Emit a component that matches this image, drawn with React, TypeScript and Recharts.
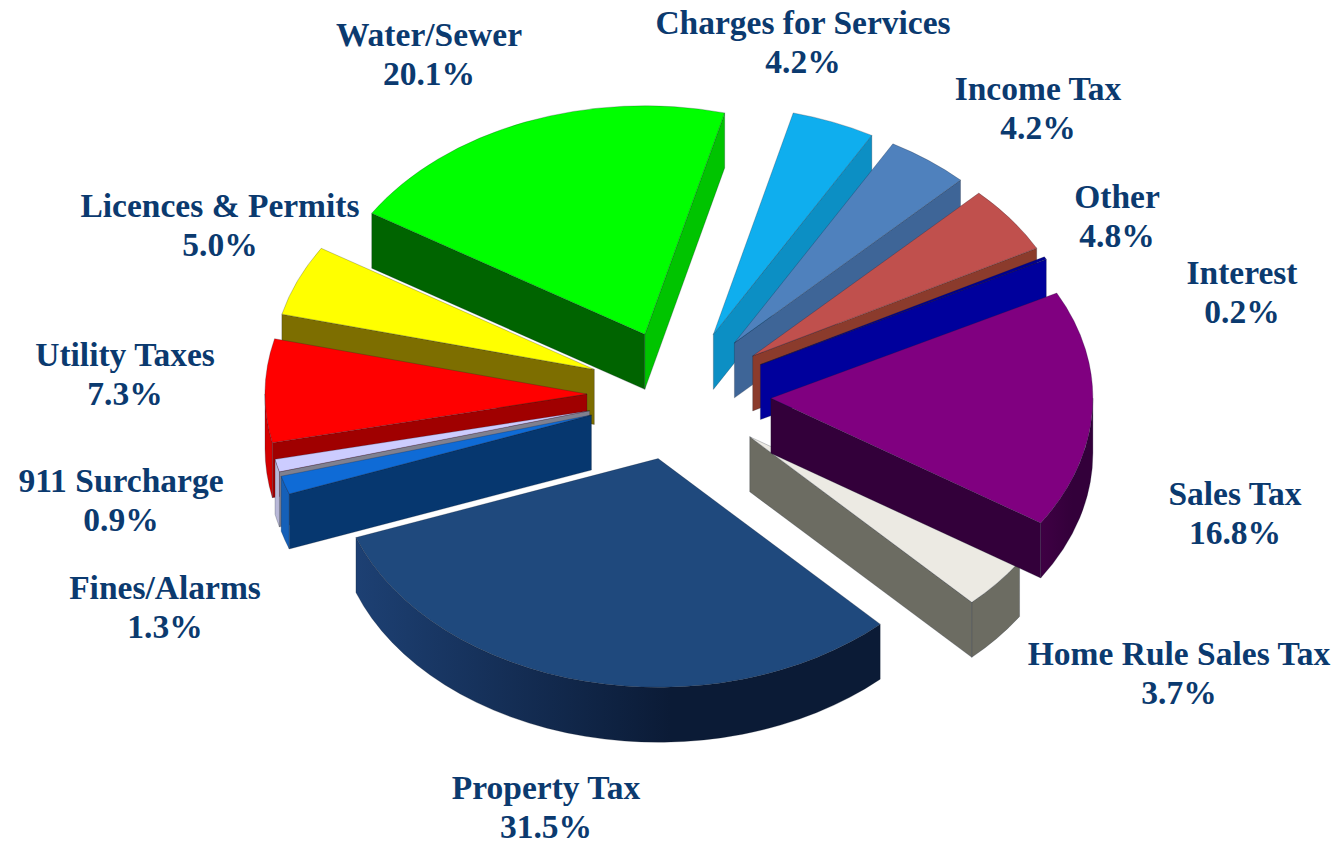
import React from "react";
import { PieChart, Pie } from "recharts";

// Revenue sources, clockwise from the Water/Sewer slice.
const categories = [
  "Water/Sewer", "Charges for Services", "Income Tax", "Other", "Interest", "Sales Tax",
  "Home Rule Sales Tax", "Property Tax", "Fines/Alarms", "911 Surcharge", "Utility Taxes", "Licences & Permits",
];
const shares = [20.1, 4.2, 4.2, 4.8, 0.2, 16.8, 3.7, 31.5, 1.3, 0.9, 7.3, 5.0];

// Paint colours per slice: top face, left cut face, right cut face, curved wall start/end.
const topColors = ["#00FF00", "#0FAEEE", "#4F81BD", "#C0504D", "#000090", "#800080", "#ECEAE3", "#1F497D", "#0F6BD6", "#CCCCFF", "#FF0000", "#FFFF00"];
const startFaceColors = ["#006400", "#0C8FC4", "#3E6597", "#8B3B2C", "#00009C", "#33003A", "#6C6C62", "#17365D", "#06376F", "#7F8090", "#A00000", "#7D6E00"];
const endFaceColors = ["#00C400", "#0C8FC4", "#3E6597", "#8B3B2C", "#00009C", "#33003A", "#6C6C62", "#0B1B36", "#06376F", "#7F8090", "#A00000", "#7D6E00"];
const wallFromColors = ["#00C400", "#0C8FC4", "#3E6597", "#8B3B2C", "#00009C", "#3F0044", "#6C6C62", "#1D4073", "#1560B8", "#B8B8D8", "#D40000", "#7D6E00"];
const wallToColors = ["#00C400", "#0C8FC4", "#3E6597", "#8B3B2C", "#00009C", "#33003A", "#6C6C62", "#0B1B36", "#1560B8", "#B8B8D8", "#D40000", "#7D6E00"];

// Slices sharing a layer do not overlap; higher layers paint over lower ones.
const paintLayers = [0, 0, 0, 0, 0, 2, 1, 3, 3, 2, 1, 0];
const layerIds = [0, 1, 2, 3];

// Centre of each two-line caption and the baseline of its first line.
const captionX = [429, 803, 1038, 1117, 1242, 1235, 1179, 546, 165, 121, 125, 220];
const captionY = [46, 34, 100, 208, 284, 505, 665, 799, 599, 492, 366, 217];

const chartData = categories.map((name, i) => ({ name, value: shares[i], index: i }));

const CENTER_X = 679;
const CENTER_Y = 395;
const RADIUS = 322;
const TILT = 0.71;
const EXPLODE = 92;
const DEPTH = 55;
const TEXT_COLOR = "#0B3A6F";
const RAD = Math.PI / 180;

type Pt = [number, number];

// One exploded slice projected onto the tilted plane, painted as an extruded wedge.
function WedgeShape(props: any, layer: number) {
  const { startAngle, endAngle, index, cx, cy, outerRadius } = props;
  const i = index as number;
  if (paintLayers[i] !== layer) return <g />;

  const mid = (startAngle + endAngle) / 2;
  const ax = cx + EXPLODE * Math.cos(mid * RAD);
  const ay = cy - EXPLODE * TILT * Math.sin(mid * RAD);
  const at = (deg: number): Pt => [
    ax + outerRadius * Math.cos(deg * RAD),
    ay - outerRadius * TILT * Math.sin(deg * RAD),
  ];
  const p1 = at(startAngle);
  const p2 = at(endAngle);
  const large = Math.abs(startAngle - endAngle) > 180 ? 1 : 0;
  const ry = outerRadius * TILT;
  const top = `M${ax},${ay} L${p1[0]},${p1[1]} A${outerRadius},${ry} 0 ${large} 1 ${p2[0]},${p2[1]} Z`;

  const face = (p: Pt) =>
    `M${ax},${ay} L${p[0]},${p[1]} L${p[0]},${p[1] + DEPTH} L${ax},${ay + DEPTH} Z`;
  const showStart = Math.cos(startAngle * RAD) < 0;
  const showEnd = Math.cos(endAngle * RAD) > 0;

  // The curved wall is only visible on the near half of the rim.
  const lo = Math.max(endAngle, -180);
  const hi = Math.min(startAngle, 0);
  let wall: string | null = null;
  if (hi > lo) {
    const a = at(hi);
    const b = at(lo);
    wall =
      `M${a[0]},${a[1]} A${outerRadius},${ry} 0 0 1 ${b[0]},${b[1]} ` +
      `L${b[0]},${b[1] + DEPTH} A${outerRadius},${ry} 0 0 0 ${a[0]},${a[1] + DEPTH} Z`;
  }
  const gradId = `wall-${i}`;
  const edge = { stroke: "#10182a", strokeOpacity: 0.3, strokeWidth: 0.8, strokeLinejoin: "round" as const };

  return (
    <g>
      <defs>
        <linearGradient id={gradId} x1="0" y1="0" x2="1" y2="0">
          <stop offset="0" stopColor={wallFromColors[i]} />
          <stop offset="0.6" stopColor={wallToColors[i]} />
          <stop offset="1" stopColor={wallToColors[i]} />
        </linearGradient>
      </defs>
      {showStart && <path d={face(p1)} fill={startFaceColors[i]} {...edge} />}
      {showEnd && <path d={face(p2)} fill={endFaceColors[i]} {...edge} />}
      {wall && <path d={wall} fill={`url(#${gradId})`} {...edge} />}
      <path d={top} fill={topColors[i]} {...edge} />
    </g>
  );
}

// Two-line caption: category name above its share.
function Caption(props: any) {
  const i = props.index as number;
  return (
    <text
      x={captionX[i]}
      y={captionY[i]}
      textAnchor="middle"
      fill={TEXT_COLOR}
      fontFamily="'Liberation Serif', serif"
      fontWeight="bold"
      fontSize={33.5}
    >
      <tspan x={captionX[i]}>{categories[i]}</tspan>
      <tspan x={captionX[i]} dy={38.5}>{shares[i].toFixed(1)}%</tspan>
    </text>
  );
}

export default function App() {
  return (
    <div style={{ position: "absolute", left: 0, top: 0, width: 1339, height: 845, background: "#fff", overflow: "hidden" }}>
      <PieChart width={1339} height={845} margin={{ top: 0, right: 0, bottom: 0, left: 0 }}>
        {layerIds.map((layer) => (
          <Pie
            key={layer}
            data={chartData}
            dataKey="value"
            nameKey="name"
            cx={CENTER_X}
            cy={CENTER_Y}
            innerRadius={0}
            outerRadius={RADIUS}
            startAngle={148}
            endAngle={-212}
            paddingAngle={0}
            isAnimationActive={false}
            labelLine={false}
            label={layer === 3 ? Caption : false}
            shape={(p: any) => WedgeShape(p, layer)}
          />
        ))}
      </PieChart>
    </div>
  );
}
